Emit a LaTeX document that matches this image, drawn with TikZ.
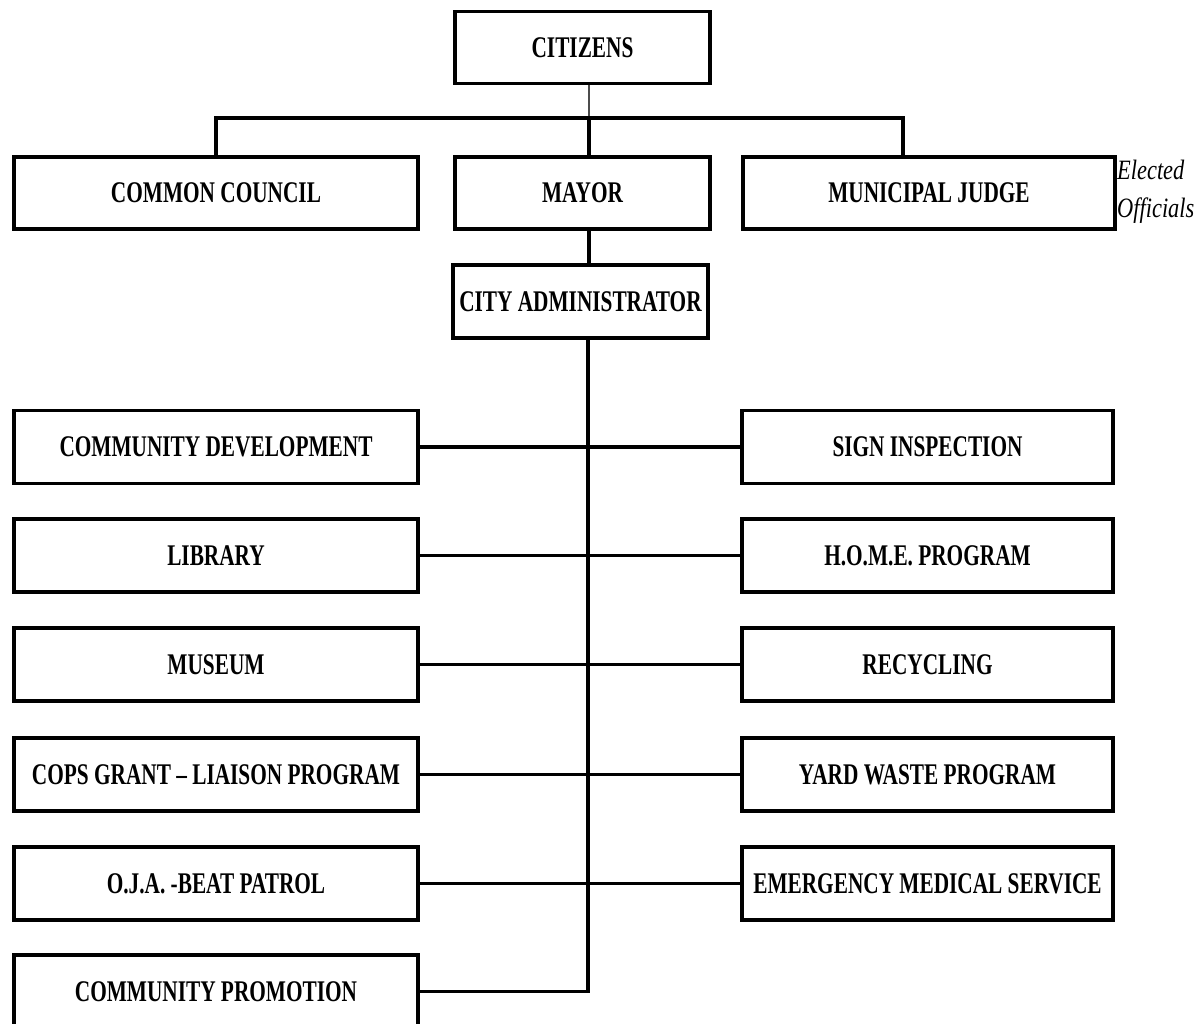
\documentclass[tikz,border=0pt]{standalone}
\usepackage{fontspec}
\newfontfamily\boxfont[FakeStretch=0.71,Ligatures=TeX]{Liberation Serif}
\newfontfamily\elfont[FakeStretch=0.8]{Liberation Serif}
\begin{document}
\begin{tikzpicture}[x=1pt,y=-1pt,
  box/.style={draw,line width=3.2pt,inner sep=0pt,font=\boxfont\bfseries\fontsize{30}{32}\selectfont},
  topbox/.style={box,minimum width=255pt,minimum height=72pt},
  lbox/.style={box,minimum width=404pt,minimum height=73pt},
  rbox/.style={box,minimum width=371pt,minimum height=73pt},
  link/.style={line width=3.2pt},
  thinlink/.style={line width=1.3pt,draw=black!70}]
\useasboundingbox (0,0) rectangle (1199,1024);
\fill[white] (0,0) rectangle (1199,1024);
% top level
\node[topbox] (cit) at (582.5,47.5) {CITIZENS};
\node[box,minimum width=404pt,minimum height=72pt] (cc) at (216,193) {COMMON COUNCIL};
\node[topbox] (may) at (582.5,193) {MAYOR};
\node[box,minimum width=372pt,minimum height=72pt] (mj) at (929,193) {MUNICIPAL JUDGE};
\node[anchor=north west,align=left,inner sep=0pt,font=\elfont\itshape\fontsize{28}{38}\selectfont] (el) at (1117,160) {Elected\\Officials};
\node[topbox,minimum height=73pt] (ca) at (580.5,301.5) {CITY ADMINISTRATOR};
% departments left
\node[lbox] (l1) at (216,447) {COMMUNITY DEVELOPMENT};
\node[lbox] (l2) at (216,555.5) {LIBRARY};
\node[lbox] (l3) at (216,664.5) {MUSEUM};
\node[lbox] (l4) at (216,774.5) {COPS GRANT – LIAISON PROGRAM};
\node[lbox] (l5) at (216,883.5) {O.J.A. -BEAT PATROL};
\node[lbox] (l6) at (216,991.5) {COMMUNITY PROMOTION};
% departments right
\node[rbox] (r1) at (927.5,447) {SIGN INSPECTION};
\node[rbox] (r2) at (927.5,555.5) {H.O.M.E. PROGRAM};
\node[rbox] (r3) at (927.5,664.5) {RECYCLING};
\node[rbox] (r4) at (927.5,774.5) {YARD WASTE PROGRAM};
\node[rbox] (r5) at (927.5,883.5) {EMERGENCY MEDICAL SERVICE};
% connectors
\coordinate (bus) at (589,118);
\coordinate (mjtop) at (903,157);
\draw[thinlink] (cit.south -| bus) -- (bus);
\draw[link] (cc.north) |- (bus) -| (mjtop);
\draw[link] (bus) -- (bus |- may.north);
\draw[link] (may.south -| bus) -- (bus |- ca.north);
\coordinate (trunk) at (588,0);
\draw[link] (ca.south -| trunk) |- (l6.east);
\draw[link] (l1.east) -- (r1.west);
\draw[link] (l2.east) -- (r2.west);
\draw[link] (l3.east) -- (r3.west);
\draw[link] (l4.east) -- (r4.west);
\draw[link] (l5.east) -- (r5.west);
\end{tikzpicture}
\end{document}
